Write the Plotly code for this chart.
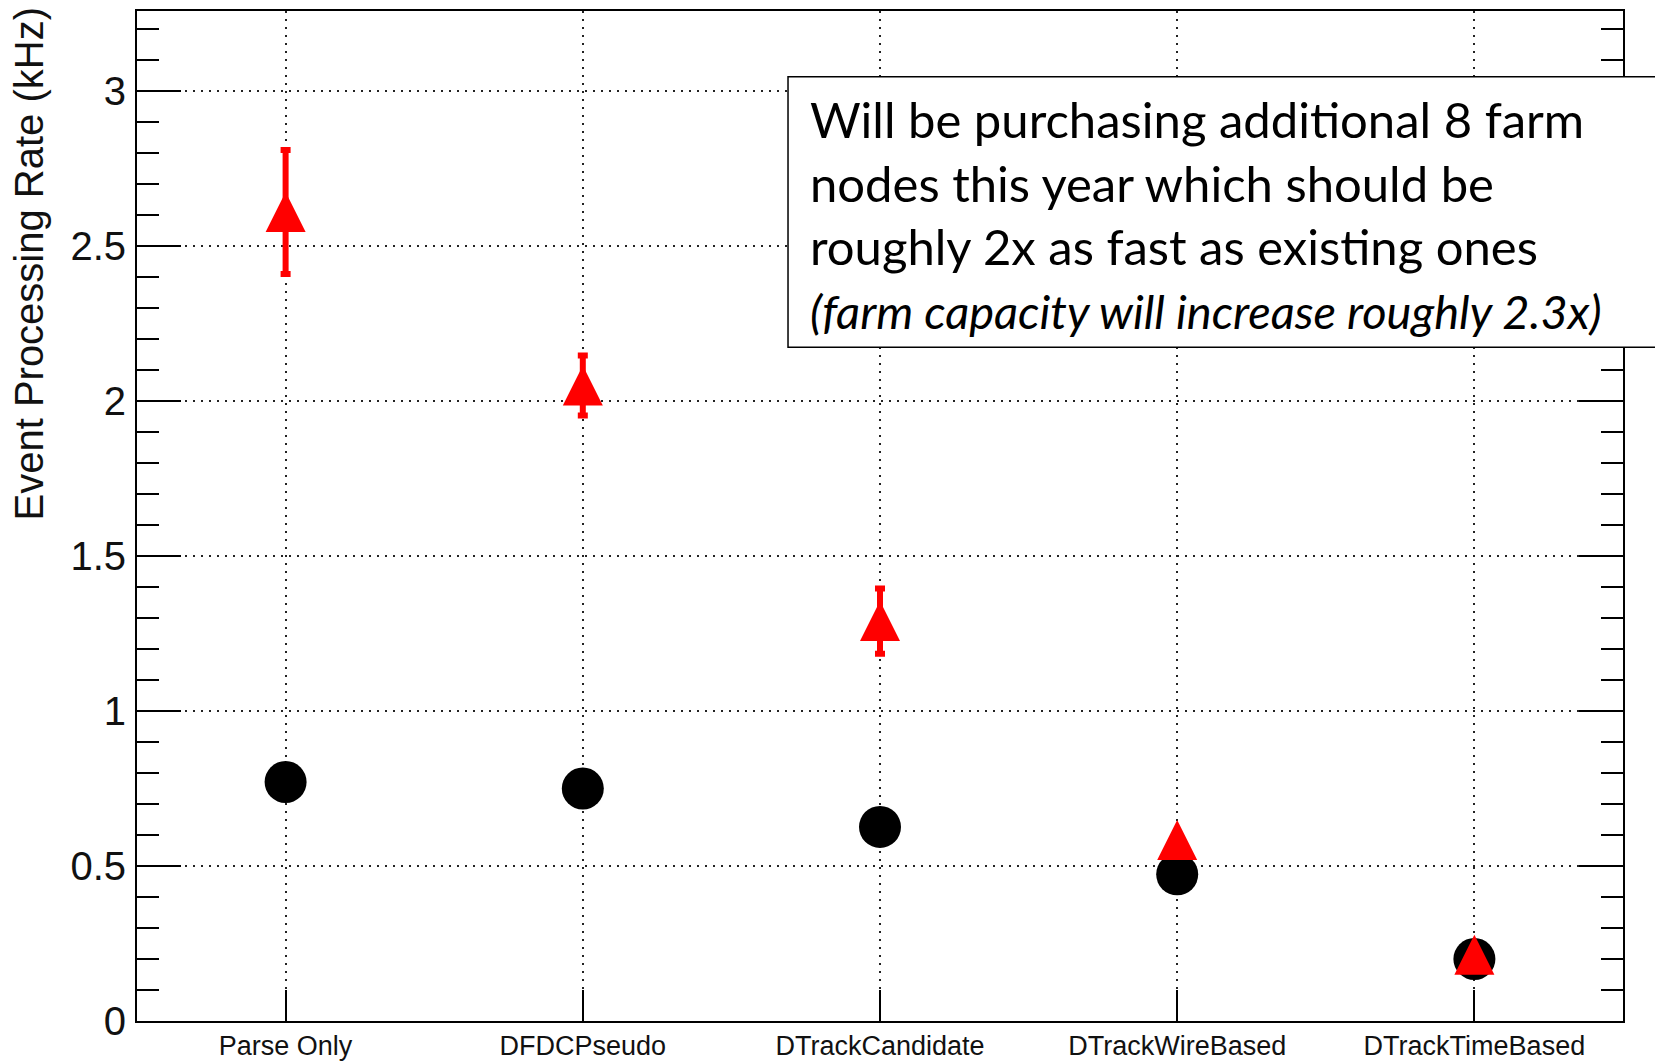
import plotly.graph_objects as go

categories = ["Parse Only", "DFDCPseudo", "DTrackCandidate", "DTrackWireBased", "DTrackTimeBased"]
current_rate = [0.771, 0.750, 0.626, 0.473, 0.200]
new_rate = [2.61, 2.05, 1.29, 0.584, 0.214]
new_rate_err = [0.20, 0.097, 0.105, 0.015, 0.010]
y_tick_vals = [0, 0.5, 1, 1.5, 2, 2.5, 3]
y_tick_text = ["0", "0.5", "1", "1.5", "2", "2.5", "3"]
y_title = "Event Processing Rate (kHz)"
note_lines = [
    "Will be purchasing additional 8 farm",
    "nodes this year which should be",
    "roughly 2x as fast as existing ones",
    "<i><span style=\"font-size:47px\">(farm capacity will increase roughly 2.3x)</span></i>",
]

fig = go.Figure()
fig.add_trace(go.Scatter(
    x=categories, y=current_rate, mode="markers",
    marker=dict(symbol="circle", size=42, color="black", line=dict(width=0)),
))
fig.add_trace(go.Scatter(
    x=categories, y=new_rate, mode="markers",
    marker=dict(symbol="arrow-down", angle=180, standoff=20, size=40,
                color="red", line=dict(width=0)),
    error_y=dict(type="data", array=new_rate_err, color="red", thickness=6, width=5),
))

grid = dict(showgrid=True, gridcolor="#222222", gridwidth=2, griddash="2px,6px")

fig.update_xaxes(
    type="category", range=[-0.5, 4.5], showline=True, linecolor="black", linewidth=2,
    mirror=True, ticks="inside", ticklen=31, tickwidth=2, tickcolor="black",
    tickfont=dict(size=27, color="#111"), zeroline=False, **grid,
)
fig.update_yaxes(
    range=[0, 3.258], tickmode="array", tickvals=y_tick_vals, ticktext=y_tick_text,
    showline=True, linecolor="black", linewidth=2, mirror="ticks",
    ticks="inside", ticklen=44, tickwidth=2, tickcolor="black",
    minor=dict(ticks="inside", ticklen=22, tickwidth=2, tickcolor="black",
               tickmode="linear", tick0=0, dtick=0.1, showgrid=False),
    tickfont=dict(size=40, color="#111"), ticklabelstandoff=1, zeroline=False, **grid,
)

fig.add_shape(type="rect", xref="paper", yref="paper",
              x0=0.4381, x1=1.05, y0=0.667, y1=0.9348,
              line=dict(color="black", width=1.5), fillcolor="white", layer="above")

fig.add_annotation(
    text="<br>".join(note_lines), xref="paper", yref="paper",
    x=0.4515, y=0.7985, xanchor="left", yanchor="middle", align="left",
    showarrow=False, font=dict(family="Lato", size=49, color="black"),
)
fig.add_annotation(
    text=y_title, xref="paper", yref="paper", textangle=-90,
    x=-0.073, y=1.0, yshift=6, xanchor="center", yanchor="top", showarrow=False,
    font=dict(family="Liberation Sans, Arial, sans-serif", size=40, color="#111"),
)

# page body has an 8px margin: shrink the figure so the plot area lands where intended
fig.update_layout(
    width=1655, height=1054, margin=dict(l=129, r=40, t=1, b=41),
    plot_bgcolor="white", paper_bgcolor="white", showlegend=False,
    font=dict(family="Liberation Sans, Arial, sans-serif", color="black"),
)
fig.write_html("out.html")
